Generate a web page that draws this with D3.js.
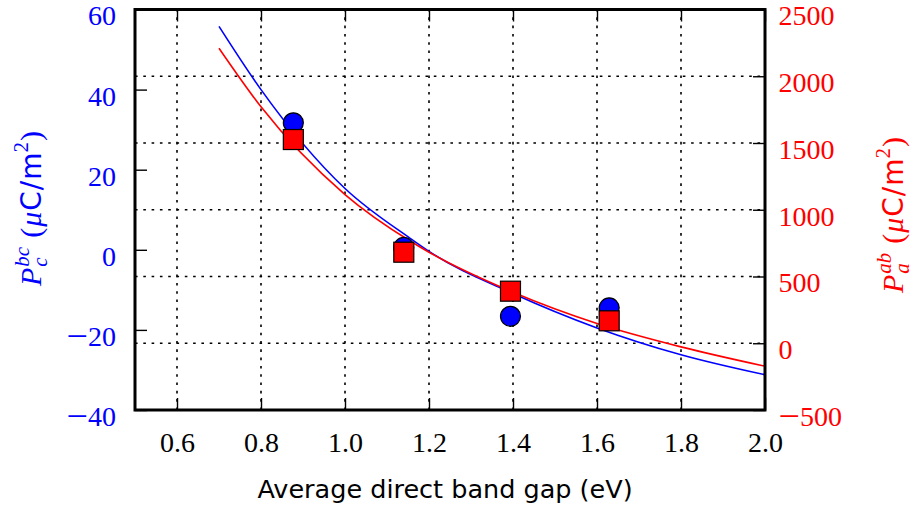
<!DOCTYPE html>
<html>
<head>
<meta charset="utf-8">
<script src="https://cdn.jsdelivr.net/npm/d3@7"></script>
<style>
  body { margin: 0; background: #fff; }
  svg { display: block; }
</style>
</head>
<body>
<div id="chart"></div>
<script>
// measured points (band gap in eV)
const bandGap = [0.877, 1.14, 1.394, 1.629];
const pcBc = [31.7, 0.6, -16.6, -14.5];
const paAb = [1526, 682, 390, 168];

// fitted curves
const fitGap = [0.7, 0.8, 1.0, 1.156, 1.2, 1.4, 1.6, 1.8, 2.0];
const fitPcBc = [55.8, 40.0, 15.3, 2.8, -0.4, -10.9, -19.5, -26.2, -31.2];
const fitPaAb = [2210, 1771, 1114, 764, 682, 382, 148, -27, -172];

const xTicks = [0.6, 0.8, 1.0, 1.2, 1.4, 1.6, 1.8, 2.0];
const leftTicks = [-40, -20, 0, 20, 40, 60];
const rightTicks = [-500, 0, 500, 1000, 1500, 2000, 2500];

const width = 915, height = 508,
    margin = ({ top: 9.5, right: 150, bottom: 98, left: 135 });

const serif = "'Liberation Serif', 'DejaVu Serif', serif",
    sans = "'DejaVu Sans', sans-serif";
const blue = "#0000ff", red = "#ff0000";
const labelDrop = 15.4; // baseline sits this far below the tick

const svg = d3.select("#chart")
  .append("svg")
  .attr("width", width)
  .attr("height", height);

const x = d3.scaleLinear()
    .domain([0.5, 2.0])
    .range([margin.left, width - margin.right]);

const yL = d3.scaleLinear()
    .domain([-40, 60])
    .range([height - margin.bottom, margin.top]);

const yR = d3.scaleLinear()
    .domain([-500, 2500])
    .range([height - margin.bottom, margin.top]);

// dotted grid: x ticks and right-axis ticks
const grid = svg.append("g")
    .attr("stroke", "#000")
    .attr("stroke-width", 1.6)
    .attr("stroke-dasharray", "2.6,5.7");

grid.selectAll(".gx")
  .data(xTicks.filter(d => d < 2.0))
  .join("line")
    .attr("x1", d => x(d)).attr("x2", d => x(d))
    .attr("y1", yL.range()[0]).attr("y2", yL.range()[1]);

grid.selectAll(".gy")
  .data(rightTicks.filter(d => d > -500 && d < 2500))
  .join("line")
    .attr("x1", x.range()[0]).attr("x2", x.range()[1])
    .attr("y1", d => yR(d)).attr("y2", d => yR(d));

// axes (ticks point inward)
function styleAxis(g, color) {
  g.select(".domain").remove();
  g.selectAll(".tick line").attr("stroke", "#000").attr("stroke-width", 1.4);
  g.selectAll(".tick text")
    .attr("fill", color)
    .style("font-family", serif)
    .style("font-size", "28px");
}

// y labels: drop below tick, long TeX-like minus sign
function yLabels(g) {
  g.selectAll(".tick text").each(function (d) {
    const t = d3.select(this).attr("dy", labelDrop);
    if (d < 0) {
      t.text("").attr("dy", null);
      t.append("tspan").attr("dy", labelDrop + 3).style("font-size", "38px").text("\u2212");
      t.append("tspan").attr("dy", -3).text(Math.abs(d));
    }
  });
}

const plain = d => String(d);

svg.append("g")
  .attr("transform", `translate(0,${yL.range()[0]})`)
  .call(d3.axisBottom(x).tickValues(xTicks).tickSize(-12).tickPadding(0)
    .tickFormat(d3.format(".1f")))
  .call(g => styleAxis(g, "#000"))
  .call(g => g.selectAll(".tick text").attr("y", 42).attr("dy", 0));

svg.append("g")
  .attr("transform", `translate(0,${yL.range()[1]})`)
  .call(d3.axisTop(x).tickValues(xTicks).tickSize(-12).tickFormat(""))
  .call(g => styleAxis(g, "#000"));

svg.append("g")
  .attr("transform", `translate(${x.range()[0]},0)`)
  .call(d3.axisLeft(yL).tickValues(leftTicks).tickSize(-12).tickPadding(19)
    .tickFormat(plain))
  .call(g => styleAxis(g, blue))
  .call(yLabels);

svg.append("g")
  .attr("transform", `translate(${x.range()[1]},0)`)
  .call(d3.axisRight(yR).tickValues(rightTicks).tickSize(-12).tickPadding(13.5)
    .tickFormat(plain))
  .call(g => styleAxis(g, red))
  .call(yLabels);

// fitted lines
const blueLine = d3.line()
    .x((d, i) => x(fitGap[i]))
    .y(d => yL(d))
    .curve(d3.curveMonotoneX);

const redLine = d3.line()
    .x((d, i) => x(fitGap[i]))
    .y(d => yR(d))
    .curve(d3.curveMonotoneX);

svg.append("path")
    .datum(fitPcBc)
    .attr("d", blueLine)
    .attr("fill", "none")
    .attr("stroke", blue)
    .attr("stroke-width", 1.6);

svg.append("path")
    .datum(fitPaAb)
    .attr("d", redLine)
    .attr("fill", "none")
    .attr("stroke", red)
    .attr("stroke-width", 1.6);

// markers
svg.append("g")
  .selectAll("circle")
  .data(pcBc)
  .join("circle")
    .attr("cx", (d, i) => x(bandGap[i]))
    .attr("cy", d => yL(d))
    .attr("r", 10)
    .attr("fill", blue)
    .attr("stroke", "#000")
    .attr("stroke-width", 1.2);

svg.append("g")
  .selectAll("rect")
  .data(paAb)
  .join("rect")
    .attr("x", (d, i) => x(bandGap[i]) - 10)
    .attr("y", d => yR(d) - 10)
    .attr("width", 20)
    .attr("height", 20)
    .attr("fill", red)
    .attr("stroke", "#000")
    .attr("stroke-width", 1.2);

// frame
svg.append("rect")
    .attr("x", x.range()[0])
    .attr("y", yL.range()[1])
    .attr("width", x.range()[1] - x.range()[0])
    .attr("height", yL.range()[0] - yL.range()[1])
    .attr("fill", "none")
    .attr("stroke", "#000")
    .attr("stroke-width", 3);

// x label
svg.append("text")
    .attr("x", (x.range()[0] + x.range()[1]) / 2 - 5)
    .attr("y", 498)
    .attr("text-anchor", "middle")
    .style("font-family", sans)
    .style("font-size", "25.5px")
    .attr("fill", "#000")
    .text("Average direct band gap (eV)");

// rotated y labels built from pieces; stack = sits over the previous piece
function richLabel(cx, cy, color, parts) {
  const g = svg.append("g").attr("transform", `translate(${cx},${cy}) rotate(-90)`);
  let pos = 0, lastStart = 0;
  for (let p of parts) {
    if (p.gap) { pos += p.gap; continue; }
    const start = p.stack ? lastStart : pos;
    const el = g.append("text")
        .attr("x", start)
        .attr("y", p.dy || 0)
        .attr("fill", color)
        .style("font-family", p.sans ? sans : serif)
        .style("font-style", p.it ? "italic" : "normal")
        .style("font-size", p.size + "px")
        .text(p.t);
    const w = el.node().getComputedTextLength() + (p.pad || 0);
    if (p.stack) pos = Math.max(pos, start + w);
    else { lastStart = start; pos = start + w; }
  }
  g.selectAll("text").attr("x", function () { return +this.getAttribute("x") - pos / 2; });
}

function polLabel(sup, sub) {
  return [
    { t: "P", size: 30, it: true, pad: 1 },
    { t: sup, size: 21, it: true, dy: -12 },
    { t: sub, size: 21, it: true, dy: 6, stack: true },
    { gap: 9 },
    { t: "(", size: 30, pad: 1 },
    { t: "\u03bc", size: 30, it: true, pad: 1 },
    { t: "C", size: 28, sans: true, pad: 1 },
    { t: "/", size: 28, sans: true, pad: 1 },
    { t: "m", size: 28, sans: true },
    { t: "2", size: 21, dy: -13, pad: 1 },
    { t: ")", size: 30 }
  ];
}

richLabel(41, 208.5, blue, polLabel("bc", "c"));
richLabel(903, 215, red, polLabel("ab", "a"));
</script>
</body>
</html>
